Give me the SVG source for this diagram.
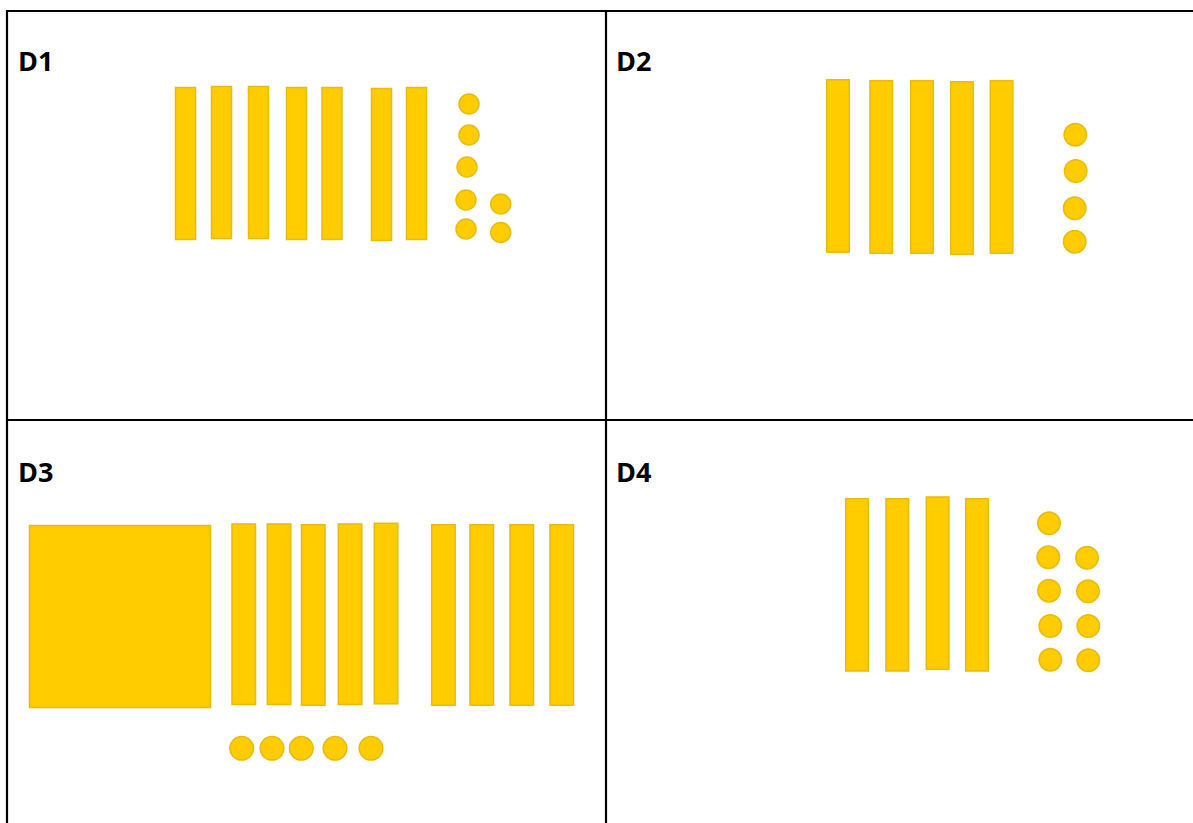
<svg xmlns="http://www.w3.org/2000/svg" width="1193" height="823" viewBox="0 0 1193 823">
<style>
.b{fill:#FFCC00;stroke:#E8BB0C;stroke-width:1.5}
.l{font-family:"Open Sans","Liberation Sans",Arial,sans-serif;font-weight:bold;font-size:27px;fill:#000}
.g{stroke:#000;stroke-width:2.2;fill:none}
</style>
<rect width="1193" height="823" fill="#fff"/>
<g id="grid">
<line class="g" x1="7" y1="11" x2="1193" y2="11"/>
<line class="g" x1="7" y1="10" x2="7" y2="823"/>
<line class="g" x1="606" y1="11" x2="606" y2="823"/>
<line class="g" x1="7" y1="420" x2="1193" y2="420"/>
</g>
<g id="D1">
<text class="l" x="18" y="71">D1</text>
<rect class="b" x="175.5" y="87.5" width="20" height="152"/>
<rect class="b" x="211.5" y="86.5" width="20" height="152"/>
<rect class="b" x="248.5" y="86.5" width="20" height="152"/>
<rect class="b" x="286.5" y="87.5" width="20" height="152"/>
<rect class="b" x="322" y="87.5" width="20" height="152"/>
<rect class="b" x="371.5" y="88.5" width="20" height="152"/>
<rect class="b" x="406.5" y="87.5" width="20" height="152"/>
<circle class="b" cx="469" cy="104" r="10"/>
<circle class="b" cx="469" cy="135" r="10"/>
<circle class="b" cx="467" cy="167" r="10"/>
<circle class="b" cx="466" cy="200" r="10"/>
<circle class="b" cx="466" cy="229" r="10"/>
<circle class="b" cx="500.7" cy="204" r="10"/>
<circle class="b" cx="500.7" cy="232.5" r="10"/>
</g>
<g id="D2">
<text class="l" x="616" y="71">D2</text>
<rect class="b" x="826.7" y="79.7" width="22.5" height="172.5"/>
<rect class="b" x="870" y="80.7" width="22.5" height="172.5"/>
<rect class="b" x="910.7" y="80.7" width="22.5" height="172.5"/>
<rect class="b" x="950.7" y="81.7" width="22.5" height="172.5"/>
<rect class="b" x="990.3" y="80.7" width="22.5" height="172.5"/>
<circle class="b" cx="1075.3" cy="134.7" r="11.2"/>
<circle class="b" cx="1075.7" cy="171" r="11.2"/>
<circle class="b" cx="1074.7" cy="208.3" r="11.2"/>
<circle class="b" cx="1074.7" cy="241.7" r="11.2"/>
</g>
<g id="D3">
<text class="l" x="18" y="482">D3</text>
<rect class="b" x="29.5" y="525.5" width="181" height="182"/>
<rect class="b" x="232" y="524" width="23.5" height="180.5"/>
<rect class="b" x="267.3" y="524" width="23.5" height="180.5"/>
<rect class="b" x="301.5" y="524.7" width="23.5" height="180.5"/>
<rect class="b" x="338.3" y="524" width="23.5" height="180.5"/>
<rect class="b" x="374.3" y="523.3" width="23.5" height="180.5"/>
<rect class="b" x="431.7" y="524.7" width="23.5" height="180.5"/>
<rect class="b" x="470" y="524.7" width="23.5" height="180.5"/>
<rect class="b" x="510" y="524.7" width="23.5" height="180.5"/>
<rect class="b" x="550" y="524.7" width="23.5" height="180.5"/>
<circle class="b" cx="241.7" cy="748.3" r="11.8"/>
<circle class="b" cx="272" cy="748.3" r="11.8"/>
<circle class="b" cx="301.3" cy="748.3" r="11.8"/>
<circle class="b" cx="335" cy="748.3" r="11.8"/>
<circle class="b" cx="371" cy="748.3" r="11.8"/>
</g>
<g id="D4">
<text class="l" x="616" y="482">D4</text>
<rect class="b" x="845.7" y="498.7" width="22.6" height="172.3"/>
<rect class="b" x="886" y="498.7" width="22.6" height="172.3"/>
<rect class="b" x="926.3" y="497" width="22.6" height="172.3"/>
<rect class="b" x="965.7" y="498.7" width="22.6" height="172.3"/>
<circle class="b" cx="1049" cy="523.3" r="11.2"/>
<circle class="b" cx="1048.3" cy="557.3" r="11.2"/>
<circle class="b" cx="1087" cy="557.7" r="11.2"/>
<circle class="b" cx="1049" cy="590.7" r="11.2"/>
<circle class="b" cx="1088" cy="591.3" r="11.2"/>
<circle class="b" cx="1050.3" cy="626" r="11.2"/>
<circle class="b" cx="1088.3" cy="626" r="11.2"/>
<circle class="b" cx="1050.3" cy="659.7" r="11.2"/>
<circle class="b" cx="1088.3" cy="660.3" r="11.2"/>
</g>
</svg>
